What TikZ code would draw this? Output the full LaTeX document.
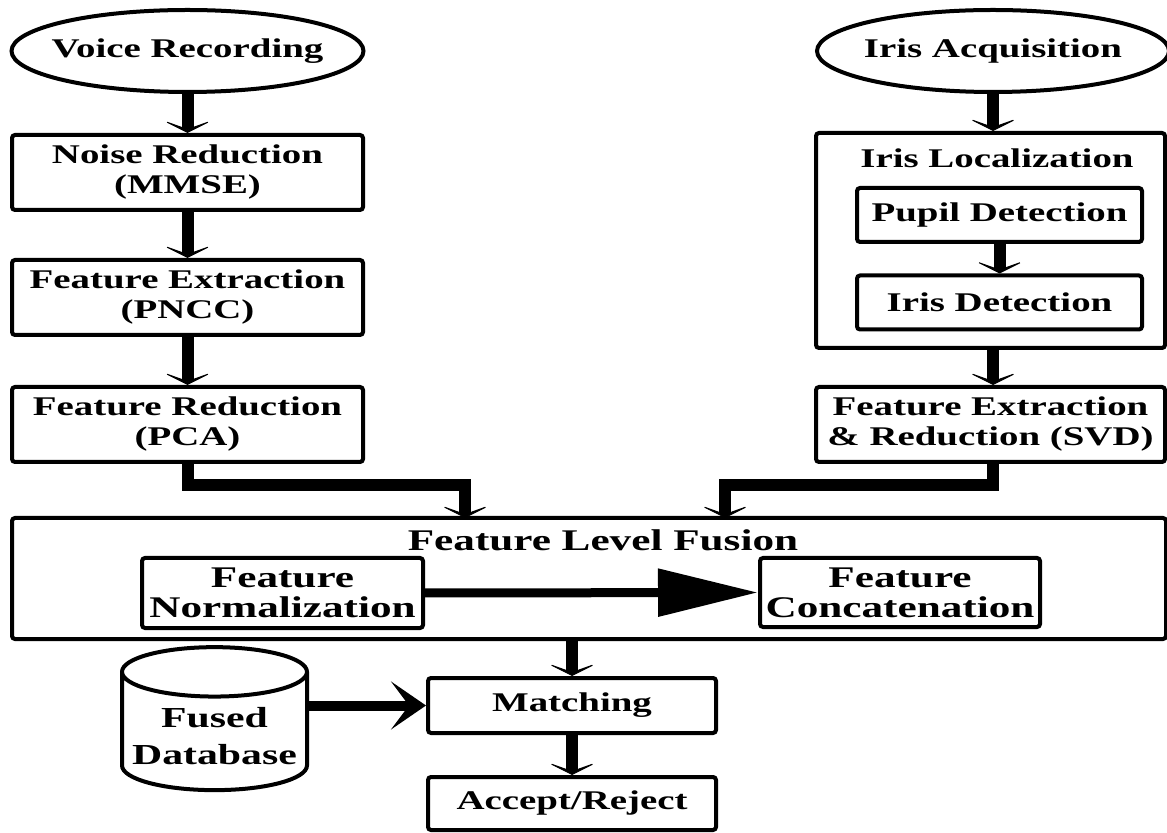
\documentclass[tikz,border=0pt]{standalone}
\usepackage{fontspec}
\setmainfont{Liberation Serif}[FakeStretch=1.44]
\usetikzlibrary{arrows.meta,shapes.geometric}

\begin{document}
\begin{tikzpicture}[x=0.5pt,y=-0.5pt,
  txt/.style={font=\bfseries\fontsize{13.5}{15}\selectfont, align=center, inner sep=0pt},
  bigtxt/.style={font=\bfseries\fontsize{15}{15}\selectfont, align=center, inner sep=0pt},
  dbtxt/.style={font=\bfseries\fontsize{14.5}{18.5}\selectfont, align=center, inner sep=0pt},
  source/.style={ellipse, draw, line width=2pt, txt, inner xsep=-8pt, inner ysep=0pt,
                 minimum width=176pt, minimum height=41pt},
  stage/.style={rectangle, draw, line width=2pt, rounded corners=1.5pt, txt, minimum width=175.5pt, minimum height=37.5pt},
  substage/.style={stage, minimum width=142.5pt, minimum height=27pt},
  panel/.style={rectangle, draw, line width=2pt, rounded corners=1.5pt, inner sep=0pt},
  store/.style={cylinder, shape border rotate=90, aspect=0.3, draw, line width=2pt, dbtxt,
                inner xsep=0pt, inner ysep=-14pt, minimum width=92.5pt, minimum height=71.5pt},
  flow/.style={line width=6pt, -{Stealth[length=7pt, width=28pt, inset=5pt]}},
  fuseflow/.style={line width=4.5pt, -{Triangle[length=50pt, width=23pt]}},
  dbflow/.style={line width=5pt, -{Stealth[length=17.5pt, width=24pt, inset=9pt]}}
]
  % Fix the page to the size of the reference
  \useasboundingbox (0,0) rectangle (1167,833);

  % Voice branch
  \node[source] (voice) at (187.5,51) {Voice Recording};
  \node[stage] (noise) at (187.5,172.5) {Noise Reduction\\(MMSE)};
  \node[stage] (featext) at (187.5,297.5) {Feature Extraction\\(PNCC)};
  \node[stage] (featred) at (187.5,424.5) {Feature Reduction\\(PCA)};

  % Iris branch
  \node[source] (irisacq) at (993,51) {Iris Acquisition};
  \node[panel, minimum width=174.5pt, minimum height=107.5pt] (irisloc) at (990.5,240.5) {};
  \node[txt] (irisloctitle) at (997,158) {Iris Localization};
  \node[substage] (pupil) at (999.5,215) {Pupil Detection};
  \node[substage] (irisdet) at (999.5,302.5) {Iris Detection};
  \node[stage, minimum width=174.5pt] (svd) at (990.5,424.5) {Feature Extraction\\\& Reduction (SVD)};

  % Fusion stage
  \node[panel, minimum width=577pt, minimum height=60.5pt] (fusion) at (589,578.5) {};
  \node[bigtxt] (fusiontitle) at (603,540) {Feature Level Fusion};
  \node[stage, bigtxt, minimum width=140.5pt, minimum height=35pt] (norm) at (282.5,593) {Feature\\Normalization};
  \node[stage, bigtxt, minimum width=140pt, minimum height=34.5pt] (concat) at (900,592.5) {Feature\\Concatenation};

  % Matching and decision
  \node[store] (db) at (214.5,732) {\phantom{Fused}\\\phantom{Database}};
  \node[dbtxt] (dblabel) at (214.5,736) {Fused\\Database};
  \node[stage, minimum width=144pt, minimum height=27.5pt] (matching) at (572,705.5) {Matching};
  \node[stage, minimum width=144pt, minimum height=26.5pt] (decision) at (572,803.5) {Accept/Reject};

  % Straight connectors
  \foreach \from/\to in {voice/noise, noise/featext, featext/featred,
                         pupil/irisdet, matching/decision}
    \draw[flow] (\from.south) -- (\to.north);
  \draw[flow] (irisacq.south) -- (irisacq.south |- irisloc.north);
  \draw[flow] (irisacq.south |- irisloc.south) -- (irisacq.south |- svd.north);

  % Elbow connectors into the fusion stage
  \coordinate (fusinL) at (465,518);
  \coordinate (fusinR) at (725,518);
  \draw[flow] (featred.south) -- ++(0,21) -| (fusinL);
  \draw[flow] (irisacq.south |- svd.south) -- ++(0,21) -| (fusinR);

  \draw[fuseflow] (norm.east) -- (concat.west);
  \draw[flow] (fusion.south -| matching.north) -- (matching.north);
  \draw[dbflow] (db.east |- matching.west) -- (matching.west);

\end{tikzpicture}
\end{document}
